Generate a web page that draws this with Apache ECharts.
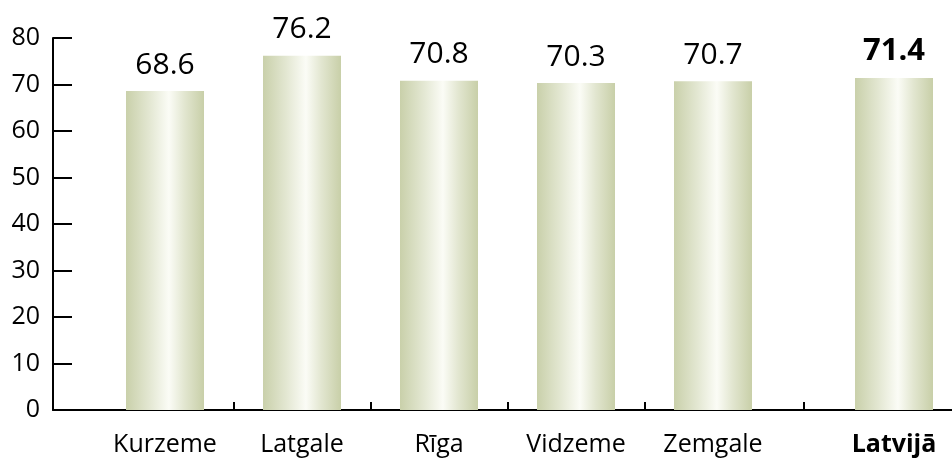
<!DOCTYPE html>
<html>
<head>
<meta charset="utf-8">
<script src="https://cdn.jsdelivr.net/npm/echarts@6/dist/echarts.min.js"></script>
<style>
  html, body { margin: 0; padding: 0; background: #fff; }
  #chart { width: 952px; height: 459px; }
</style>
</head>
<body>
<div id="chart"></div>
<script>
// data
var categories = ['Kurzeme', 'Latgale', 'Rīga', 'Vidzeme', 'Zemgale', 'Latvijā'];
var values = [68.6, 76.2, 70.8, 70.3, 70.7, 71.4];
var yTicks = [0, 10, 20, 30, 40, 50, 60, 70, 80];
var boldCategory = 'Latvijā';

var FONT = 'Open Sans';
var splitAt = 4; // first group: the four regions, second: Zemgale + Latvijā

var barColor = new echarts.graphic.LinearGradient(0, 0, 1, 0, [
    {offset: 0, color: '#c9d0aa'},
    {offset: 0.3, color: '#e3e7d2'},
    {offset: 0.55, color: '#fbfcf6'},
    {offset: 0.75, color: '#e2e6d0'},
    {offset: 1, color: '#c8cfa8'}
]);

function makeData(cats, vals) {
    return vals.map(function (v, i) {
        if (v == null) return null;
        var item = {value: v};
        if (cats[i] === boldCategory) {
            item.label = {fontWeight: 'bold', fontSize: 31};
        }
        return item;
    });
}

var catA = categories.slice(0, splitAt), valA = values.slice(0, splitAt);
// second group gets an empty slot in the middle so the divider tick sits between the two bars
var catB = [categories[splitAt], '', categories[splitAt + 1]];
var valB = [values[splitAt], null, values[splitAt + 1]];

var hiddenY = {
    type: 'value', min: yTicks[0], max: yTicks[yTicks.length - 1], show: false
};

var labelStyle = {
    interval: 0, margin: 22, color: '#000', fontSize: 25, fontFamily: FONT,
    formatter: function (v) { return v === boldCategory ? '{b|' + v + '}' : v; },
    rich: {b: {fontWeight: 'bold', fontSize: 25, fontFamily: FONT, color: '#000'}}
};

function barSeries(idx, cats, vals) {
    return {
        type: 'bar', xAxisIndex: idx, yAxisIndex: idx,
        barWidth: 78,
        itemStyle: {color: barColor},
        label: {
            show: true, position: 'top', distance: 11,
            color: '#000', fontSize: 30, fontFamily: FONT
        },
        data: makeData(cats, vals)
    };
}

var chart = echarts.init(document.getElementById('chart'));
chart.setOption({
    animation: false,
    backgroundColor: '#fff',
    grid: [
        {left: 53, right: 0, top: 38, bottom: 49},
        {left: 96.5, width: 548, top: 38, bottom: 49},
        {left: 667.75, width: 271.5, top: 38, bottom: 49}
    ],
    xAxis: [
        {
            type: 'value', gridIndex: 0,
            axisLine: {show: true, onZero: false, lineStyle: {color: '#000', width: 2}},
            axisTick: {show: false}, axisLabel: {show: false}, splitLine: {show: false}
        },
        {
            type: 'category', gridIndex: 1, data: catA,
            axisLine: {show: false},
            axisTick: {
                show: true, inside: true, length: 8,
                interval: function (i) { return i > 0; },
                lineStyle: {color: '#000', width: 2}
            },
            axisLabel: labelStyle,
            splitLine: {show: false}
        },
        {
            type: 'category', gridIndex: 2, data: catB,
            axisLine: {show: false},
            axisTick: {
                show: true, inside: true, length: 8, alignWithLabel: true,
                interval: function (i, v) { return v === ''; },
                lineStyle: {color: '#000', width: 2}
            },
            axisLabel: labelStyle,
            splitLine: {show: false}
        }
    ],
    yAxis: [
        {
            type: 'value', gridIndex: 0,
            min: yTicks[0], max: yTicks[yTicks.length - 1], interval: yTicks[1] - yTicks[0],
            axisLine: {show: true, lineStyle: {color: '#000', width: 2}},
            axisTick: {show: true, inside: true, length: 19, lineStyle: {color: '#000', width: 2}},
            axisLabel: {margin: 13, color: '#000', fontSize: 25, fontFamily: FONT},
            splitLine: {show: false}
        },
        Object.assign({gridIndex: 1}, hiddenY),
        Object.assign({gridIndex: 2}, hiddenY)
    ],
    series: [
        barSeries(1, catA, valA),
        barSeries(2, catB, valB)
    ]
});
</script>
</body>
</html>
